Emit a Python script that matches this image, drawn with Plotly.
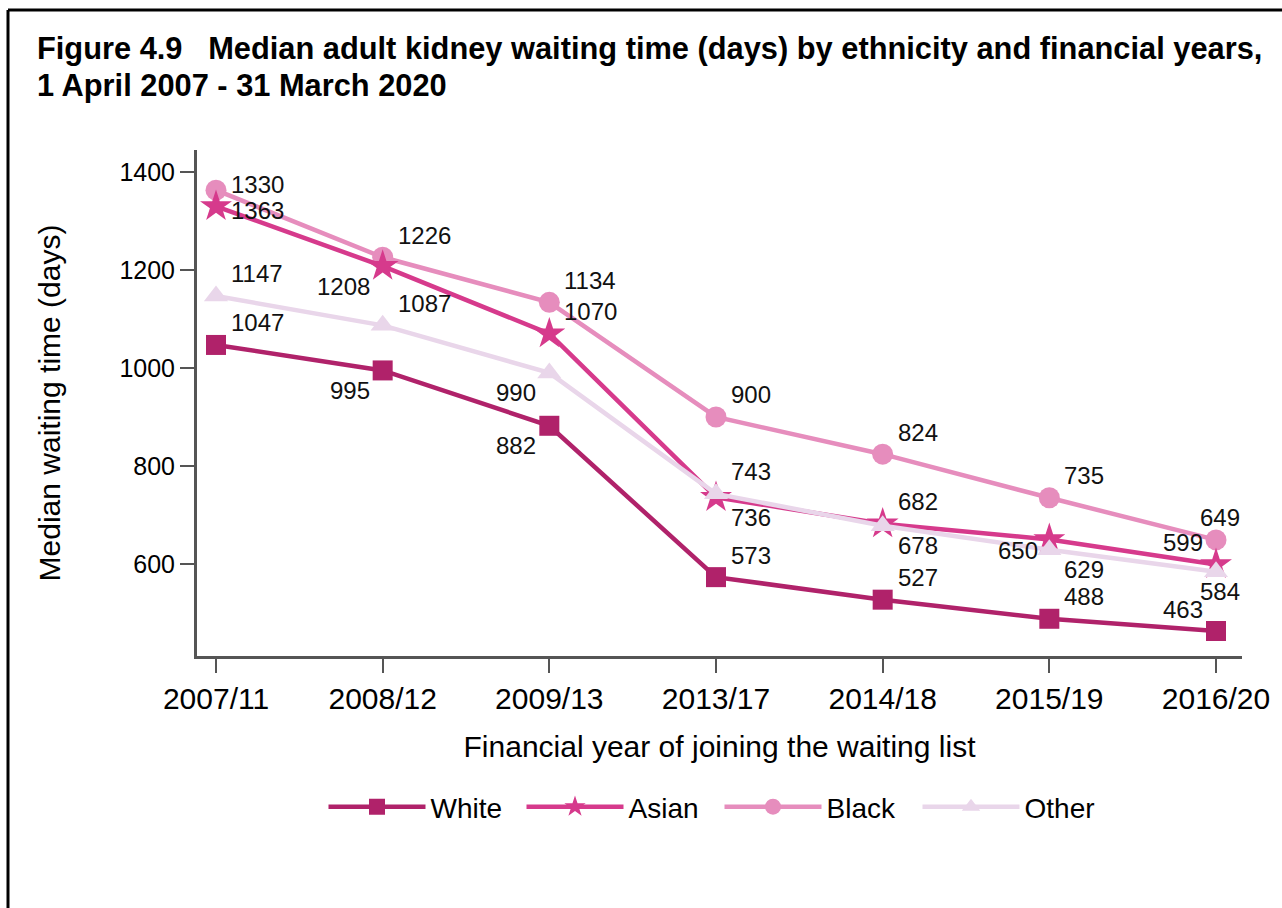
import plotly.graph_objects as go

# ---------------- data ----------------
categories = ["2007/11", "2008/12", "2009/13", "2013/17", "2014/18", "2015/19", "2016/20"]
white = [1047, 995, 882, 573, 527, 488, 463]
asian = [1330, 1208, 1070, 736, 682, 650, 599]
black = [1363, 1226, 1134, 900, 824, 735, 649]
other = [1147, 1087, 990, 743, 678, 629, 584]
y_ticks = [600, 800, 1000, 1200, 1400]

# label placement codes per point (presentation only)
white_pos = ["tr", "bl", "bl", "tr", "tr", "tr", "tl"]
asian_pos = ["tr", "bl", "tr", "br", "tr", "l", "tl"]
black_pos = ["br", "tr", "tr", "tr", "tr", "tr", "tc"]
other_pos = ["tr", "tr", "bl", "tr", "br", "br", "bc"]

# code -> (xanchor, xshift, yshift)   (yshift positive = up)
OFFSETS = {
    "tr": ("left", 13, 22),
    "br": ("left", 13, -20),
    "bl": ("right", -11, -20),
    "tl": ("right", -11, 22),
    "tc": ("center", 4, 22),
    "bc": ("center", 4, -20),
    "l": ("right", -9, -11),
}

FONT = "Liberation Sans, Arial, sans-serif"

series = [
    # name, values, colour, symbol, size, positions, legend rank
    ("Black", black, "#E68DBD", "circle", 21, black_pos, 3),
    ("Asian", asian, "#D63A8C", "star", 24, asian_pos, 2),
    ("Other", other, "#E9D6EA", "triangle-up", 21, other_pos, 4),
    ("White", white, "#B0226A", "square", 20, white_pos, 1),
]

fig = go.Figure()
annotations = []
for name, vals, col, sym, size, pos, rank in series:
    fig.add_trace(go.Scatter(
        x=categories, y=vals, name=name, mode="lines+markers",
        line=dict(color=col, width=4.5),
        marker=dict(symbol=sym, size=size, color=col, line=dict(width=0)),
        legendrank=rank,
    ))
    for c, v, p in zip(categories, vals, pos):
        xa, xs, ys = OFFSETS[p]
        annotations.append(dict(
            x=c, y=v, xref="x", yref="y", text=str(v), showarrow=False,
            xanchor=xa, yanchor="middle", xshift=xs, yshift=ys,
            font=dict(family=FONT, size=24, color="#111111"),
        ))

L, R, T, B = 197, 40, 150, 252
W, H = 1282, 908
pw, ph = W - L - R, H - T - B

def px(xpix):
    return (xpix - L) / pw

def py(ypix):
    return (H - B - ypix) / ph

title_lines = [
    "Figure 4.9   Median adult kidney waiting time (days) by ethnicity and financial years,",
    "1 April 2007 - 31 March 2020",
]
for line, ypix in zip(title_lines, [48, 85]):
    annotations.append(dict(
        xref="paper", yref="paper", x=px(35), y=py(ypix), xanchor="left", yanchor="middle",
        text="<b>" + line + "</b>", showarrow=False,
        font=dict(family=FONT, size=30.8, color="black"),
    ))

shapes = [
    dict(type="line", xref="paper", yref="paper", x0=px(8), x1=px(1300), y0=py(10), y1=py(10),
         line=dict(color="black", width=3)),
    dict(type="line", xref="paper", yref="paper", x0=px(8), x1=px(8), y0=py(10), y1=py(930),
         line=dict(color="black", width=3)),
]

fig.update_layout(
    width=W, height=H, autosize=False,
    margin=dict(l=L, r=R, t=T, b=B, pad=0),
    paper_bgcolor="white", plot_bgcolor="white",
    font=dict(family=FONT, color="black", size=28),
    xaxis=dict(
        type="category", range=[-0.114, 6.156],
        showline=True, linecolor="#555555", linewidth=3,
        ticks="outside", ticklen=14, tickwidth=2, tickcolor="#555555",
        showgrid=False, zeroline=False,
        tickfont=dict(family=FONT, size=30, color="black"),
        title=dict(text="Financial year of joining the waiting list",
                   font=dict(family=FONT, size=30, color="black"), standoff=22),
    ),
    yaxis=dict(
        range=[412, 1445], tickvals=y_ticks,
        showline=True, linecolor="#555555", linewidth=3,
        ticks="outside", ticklen=14, tickwidth=2, tickcolor="#555555",
        showgrid=False, zeroline=False,
        tickfont=dict(family=FONT, size=25, color="black"),
        title=dict(text="Median waiting time (days)",
                   font=dict(family=FONT, size=30, color="black"), standoff=50),
    ),
    legend=dict(
        orientation="h", x=0.5, xanchor="center", y=py(782), yanchor="top",
        font=dict(family=FONT, size=28, color="black"),
        itemwidth=97, traceorder="normal", entrywidth=86, entrywidthmode="pixels",
    ),
    annotations=annotations,
    shapes=shapes,
)

fig.write_html("out.html", config={"displayModeBar": False},
               post_script="document.body.style.margin='0';")
